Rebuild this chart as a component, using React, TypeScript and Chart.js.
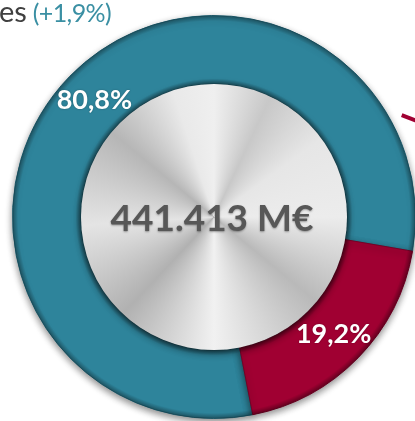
import { useEffect, useRef } from "react";
import { Chart, registerables } from "chart.js";

Chart.register(...registerables);

const categories = ["Categoría A", "Categoría B"];
const shares = [80.8, 19.2];
const sliceColors = ["#2e849b", "#a00032"];
const edgeColors = ["#22677a", "#760025"];
const totalLabel = "441.413 M€";
const headerWord = "es";
const headerChange = "(+1,9%)";
const startRotation = 168.9;

const fmtPct = (v: number) => v.toFixed(1).replace(".", ",") + "%";

const decorPlugin = {
  id: "decor",
  beforeDatasetsDraw(chart: any) {
    const ctx = chart.ctx;
    ctx.save();
    ctx.shadowColor = "rgba(0,0,0,0.45)";
    ctx.shadowBlur = 7;
    ctx.shadowOffsetY = 3;
  },
  afterDatasetsDraw(chart: any) {
    const ctx: CanvasRenderingContext2D = chart.ctx;
    ctx.restore();
    const meta = chart.getDatasetMeta(0);
    const arc0 = meta.data[0] as any;
    const { x, y, innerRadius, outerRadius } = arc0.getProps(
      ["x", "y", "innerRadius", "outerRadius"],
      true
    );

    // ring edge shading
    ctx.save();
    const g = ctx.createRadialGradient(x, y, innerRadius, x, y, outerRadius);
    g.addColorStop(0, "rgba(0,0,0,0.35)");
    g.addColorStop(0.08, "rgba(0,0,0,0)");
    g.addColorStop(0.92, "rgba(0,0,0,0)");
    g.addColorStop(1, "rgba(0,0,0,0.35)");
    ctx.beginPath();
    ctx.arc(x, y, outerRadius, 0, Math.PI * 2);
    ctx.arc(x, y, innerRadius, 0, Math.PI * 2, true);
    ctx.fillStyle = g;
    ctx.fill();
    ctx.restore();

    // leader line
    ctx.save();
    const a = ((61.5 - 90) * Math.PI) / 180;
    const sx = x + outerRadius * 1.06 * Math.cos(a);
    const sy = y + outerRadius * 1.06 * Math.sin(a);
    const da = (21 * Math.PI) / 180;
    ctx.strokeStyle = sliceColors[1];
    ctx.lineWidth = 4;
    ctx.beginPath();
    ctx.moveTo(sx, sy);
    ctx.lineTo(sx + 30 * Math.cos(da), sy + 30 * Math.sin(da));
    ctx.stroke();
    ctx.restore();

    // silver disk
    ctx.save();
    const cg = (ctx as any).createConicGradient(-Math.PI / 2, x, y);
    const stops: [number, string][] = [
      [0.0, "#efefef"],
      [0.07, "#c8c8c8"],
      [0.15, "#e6e6e6"],
      [0.25, "#ececec"],
      [0.36, "#b9b9b9"],
      [0.5, "#f1f1f1"],
      [0.62, "#b1b1b1"],
      [0.74, "#e4e4e4"],
      [0.86, "#b6b6b6"],
      [0.95, "#e9e9e9"],
      [1.0, "#efefef"],
    ];
    stops.forEach(([o, c]) => cg.addColorStop(o, c));
    ctx.shadowColor = "rgba(0,0,0,0.55)";
    ctx.shadowBlur = 8;
    ctx.shadowOffsetY = 2;
    ctx.beginPath();
    ctx.arc(x, y, innerRadius, 0, Math.PI * 2);
    ctx.fillStyle = cg;
    ctx.fill();
    ctx.restore();

    // center total
    ctx.save();
    ctx.font = "bold 37px Lato";
    ctx.textAlign = "center";
    ctx.textBaseline = "middle";
    ctx.shadowColor = "rgba(0,0,0,0.35)";
    ctx.shadowBlur = 2;
    ctx.shadowOffsetY = 1;
    ctx.fillStyle = "#575757";
    ctx.fillText(totalLabel, x - 2, y + 2);
    ctx.restore();

    // slice labels
    ctx.save();
    ctx.font = "bold 27px Lato";
    ctx.textAlign = "center";
    ctx.textBaseline = "middle";
    ctx.fillStyle = "#ffffff";
    ctx.shadowColor = "rgba(0,0,0,0.3)";
    ctx.shadowBlur = 2;
    meta.data.forEach((arc: any, i: number) => {
      const p = arc.getCenterPoint(true);
      ctx.fillText(fmtPct(shares[i]), p.x, p.y);
    });
    ctx.restore();
  },
};

export default function App() {
  const ref = useRef<HTMLCanvasElement | null>(null);
  useEffect(() => {
    if (!ref.current) return;
    const chart = new Chart(ref.current, {
      type: "doughnut",
      data: {
        labels: categories,
        datasets: [
          {
            data: shares,
            backgroundColor: sliceColors,
            borderColor: edgeColors,
            borderWidth: 1,
          },
        ],
      },
      options: {
        responsive: false,
        animation: false,
        cutout: "66%",
        rotation: startRotation,
        layout: { padding: { left: 12, right: 13, top: 15, bottom: 15 } },
        plugins: {
          legend: { display: false },
          tooltip: { enabled: false },
        },
      },
      plugins: [decorPlugin as any],
    });
    return () => chart.destroy();
  }, []);

  return (
    <div
      style={{
        position: "fixed",
        left: 0,
        top: 0,
        width: 415,
        height: 421,
        overflow: "hidden",
        background: "#ffffff",
      }}
    >
      <canvas ref={ref} width={429} height={434} style={{ display: "block" }} />
      <div
        style={{
          position: "absolute",
          left: -1,
          top: -5,
          fontFamily: "Lato",
          whiteSpace: "nowrap",
          lineHeight: "32px",
        }}
      >
        <span style={{ fontSize: 29, color: "#404040" }}>{headerWord}</span>
        <span style={{ fontSize: 25, color: "#3a8fa3", letterSpacing: "-0.6px" }}>
          {" "}
          {headerChange}
        </span>
      </div>
    </div>
  );
}
